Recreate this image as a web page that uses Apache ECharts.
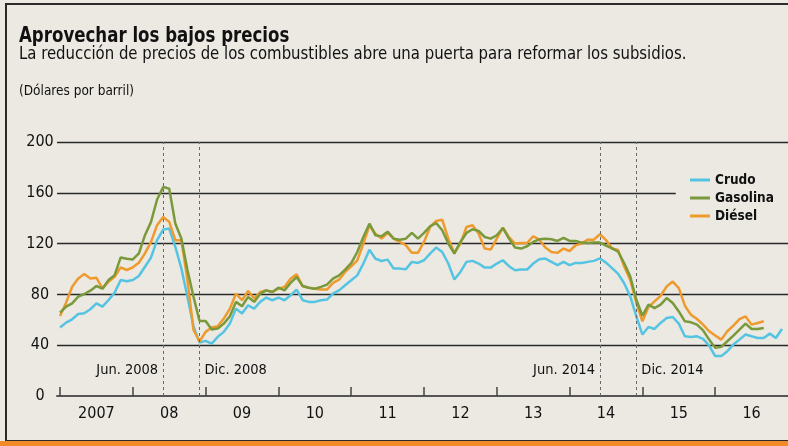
<!DOCTYPE html>
<html>
<head>
<meta charset="utf-8">
<script src="https://cdn.jsdelivr.net/npm/echarts@6/dist/echarts.min.js"></script>
<style>
  html, body { margin: 0; padding: 0; background: #e9e7df; }
  #chart { width: 788px; height: 446px; }
</style>
</head>
<body>
<div id="chart"></div>
<script>
'use strict';

// monthly, Jan 2007 = index 0
var yearLabels = ['2007', '08', '09', '10', '11', '12', '13', '14', '15', '16'];
var yTicks = [0, 40, 80, 120, 160, 200];
var gridValues = [40, 80, 120, 200];   // 160 is drawn short, the legend sits on it
var events = [
    { month: 17, name: 'Jun. 2008', side: 'left' },
    { month: 23, name: 'Dic. 2008', side: 'right' },
    { month: 89, name: 'Jun. 2014', side: 'left' },
    { month: 95, name: 'Dic. 2014', side: 'right' }
];

var crudo = [
    53.9, 57.8, 60.4, 64.6, 65.1, 68.3, 73, 70.4, 75.6, 81.4, 91.3, 90.3,
    91.3, 94.5, 101.8, 109.1, 122.7, 131, 131.9, 117.5, 100.5, 78.2, 54.7, 42,
    43.4, 41.3, 46.6, 50.5, 57, 68.8, 64.9, 71.4, 68.8, 74.1, 77.5, 75.4,
    77.5, 75.4, 79.3, 83.8, 75.4, 74.1, 74.1, 75.4, 75.9, 80.6, 83.2, 87.2,
    91.1, 95, 104.2, 115.2, 108.1, 106.3, 107.4, 100.3, 100.3, 99.8, 105.6, 104.8,
    106.9, 112.1, 116.9, 113.4, 104.3, 91.7, 97.7, 105.6, 106.4, 104.3, 101.1, 101.1,
    104.3, 106.9, 102.2, 99, 99.6, 99.6, 104.3, 107.7, 108.2, 105.6, 103, 105.6,
    103, 104.8, 104.8, 105.6, 106.4, 108.3, 105, 100.7, 96.2, 88.8, 78.4, 62.7,
    48.4, 54.4, 52.8, 57.5, 61.4, 62.2, 57, 47, 46.5, 47, 45, 39.7,
    31.4, 31.4, 35.3, 40.5, 44.4, 48.4, 47, 45.7, 45.7, 49.1, 45.7, 52.8
];
var gasolina = [
    65.7, 70.4, 73, 78.2, 80.3, 82.9, 86.6, 84.5, 91.3, 95.2, 109.1, 108.1,
    107.5, 112.3, 126.6, 137.1, 154.7, 164.6, 163.3, 135.8, 124, 99.2, 78.2, 59,
    59.1, 52.3, 53.1, 57, 62.8, 74.1, 70.7, 78, 74.1, 80.6, 83.2, 81.9,
    85.3, 83.2, 89, 93.7, 86.6, 85.3, 84.5, 85.9, 87.7, 92.4, 95, 99.5,
    104.7, 113.4, 125.2, 135.7, 126.5, 125.7, 129.4, 123.9, 123.1, 123.9, 128.4, 123.9,
    128.4, 133.6, 136.2, 130.5, 120, 112.1, 121.3, 128.4, 131.3, 130, 125.2, 123.9,
    126.6, 132.3, 123.9, 116.9, 116.1, 117.9, 121.3, 123.4, 123.9, 123.4, 122.1, 124.5,
    122.1, 122.1, 120.8, 120.5, 120.8, 120.8, 118.4, 116.2, 113.6, 104.5, 94, 75.8,
    63.2, 71.9, 69.2, 71.9, 77.1, 73.2, 66.6, 58.8, 58, 56.2, 51.7, 44.4,
    37.9, 38.7, 43.1, 47.6, 52.3, 57, 52.8, 52.8, 53.6
];
var diesel = [
    63, 73.5, 86, 92.6, 96, 92.6, 93.1, 84.8, 90, 93.9, 101.3, 99.2,
    101.3, 104.9, 112.3, 121.4, 134.5, 141, 137.1, 122.7, 122.7, 91.3, 52, 42.9,
    50.5, 53.9, 54.9, 61, 68.8, 80.6, 75.4, 82.7, 76.7, 81.9, 83.2, 81.9,
    84.5, 85.9, 92.4, 95.8, 86.4, 85.3, 84.5, 83.8, 83.8, 89, 91.6, 97.7,
    102.1, 106.8, 119.9, 134.3, 127.8, 123.9, 128.5, 123.9, 121.3, 118.7, 112.7, 112.7,
    121.3, 133.1, 137.8, 138.9, 123.9, 112.7, 120, 133.1, 134.4, 127.9, 116.1, 115.3,
    123.9, 132.6, 125.2, 120, 120.5, 120.5, 125.8, 123.1, 116.9, 113.4, 112.7, 116.1,
    114.2, 118.7, 120, 123.1, 123.1, 127.4, 122.8, 116.2, 114.9, 101.9, 91.4, 73.2,
    58.8, 70, 74.5, 78.9, 86.2, 90.1, 84.9, 71.1, 64, 60.6, 56.2, 51,
    47.6, 44.4, 51, 55.4, 60.6, 62.7, 56.2, 57.5, 58.8
];

var FONT = '"Liberation Sans Narrow", "DejaVu Sans Condensed", sans-serif';

function toPairs(arr) {
    return arr.map(function (v, i) { return [i, v]; });
}

var yearTicks = yearLabels.map(function (d, k) { return k * 12; });
var yearMids = yearLabels.map(function (d, k) { return k * 12 + 6; });

var myChart = echarts.init(document.getElementById('chart'));

var gridLines = gridValues.map(function (v) { return { yAxis: v }; });
gridLines.push([{ coord: [-0.5, 160] }, { coord: [101.5, 160] }]);

var eventLines = events.map(function (e) {
    return [{ coord: [e.month, 0] }, { coord: [e.month, 200] }];
});
var eventLabels = events.map(function (e) {
    return {
        coord: [e.month, 20],
        label: { position: e.side, formatter: e.name, distance: 5 }
    };
});

var option = {
    backgroundColor: '#ebe9e1',
    animation: false,
    graphic: [
        {
            type: 'rect', silent: true, z: -1,
            shape: { x: 6, y: 4, width: 800, height: 437 },
            style: { fill: 'none', stroke: '#2b2b2b', lineWidth: 2 }
        },
        {
            type: 'rect', silent: true,
            shape: { x: 0, y: 441, width: 788, height: 5 },
            style: { fill: '#f28a27' }
        },
        {
            type: 'text', silent: true,
            x: 19, y: 25, scaleX: 0.84,
            style: {
                text: 'Aprovechar los bajos precios',
                font: 'bold 22px ' + FONT, fill: '#111',
                verticalAlign: 'top'
            }
        },
        {
            type: 'text', silent: true,
            x: 19, y: 46, scaleX: 0.975,
            style: {
                text: 'La reducción de precios de los combustibles abre una puerta para reformar los subsidios.',
                font: '17px ' + FONT, fill: '#111',
                verticalAlign: 'top'
            }
        },
        {
            type: 'text', silent: true,
            x: 19, y: 84,
            style: {
                text: '(Dólares por barril)',
                font: '13.5px ' + FONT, fill: '#111',
                verticalAlign: 'top'
            }
        }
    ],
    legend: {
        orient: 'vertical',
        left: 690, top: 173,
        padding: 0,
        icon: 'rect',
        itemWidth: 20, itemHeight: 3,
        itemGap: 4,
        data: ['Crudo', 'Gasolina', 'Diésel'],
        textStyle: { fontFamily: FONT, fontWeight: 'bold', fontSize: 13.5, lineHeight: 14, color: '#111' }
    },
    grid: { left: 57, right: 0, top: 142, bottom: 50 },
    xAxis: {
        type: 'value',
        min: -0.5, max: 120,
        axisLine: { show: true, lineStyle: { color: '#555', width: 2 } },
        axisTick: {
            show: true, inside: true, length: 9,
            customValues: yearTicks,
            lineStyle: { color: '#444', width: 1.5 }
        },
        axisLabel: {
            customValues: yearMids,
            margin: 10,
            fontFamily: FONT, fontSize: 16, color: '#111',
            formatter: function (v) { return yearLabels[(v - 6) / 12]; }
        },
        splitLine: { show: false }
    },
    yAxis: {
        type: 'value',
        min: 0, max: 200, interval: 40,
        axisLine: { show: false },
        axisTick: { show: false },
        axisLabel: {
            customValues: yTicks,
            align: 'center', margin: 17,
            fontFamily: FONT, fontSize: 16, color: '#111'
        },
        splitLine: { show: false }
    },
    series: [
        {
            name: 'Crudo', type: 'line',
            data: toPairs(crudo),
            showSymbol: false,
            lineStyle: { width: 2.5, color: '#55c4e2' },
            itemStyle: { color: '#55c4e2' },
            z: 3,
            markLine: {
                silent: true, symbol: 'none',
                label: { show: false },
                lineStyle: { color: '#2a2a2a', width: 1.3, type: 'solid' },
                data: gridLines,
                z: 1
            }
        },
        {
            name: 'Diésel', type: 'line',
            data: toPairs(diesel),
            showSymbol: false,
            lineStyle: { width: 2.5, color: '#ef9a2c' },
            itemStyle: { color: '#ef9a2c' },
            z: 4,
            markLine: {
                silent: true, symbol: 'none',
                label: { show: false },
                lineStyle: { color: '#666', width: 1, type: [3, 3] },
                data: eventLines
            },
            markPoint: {
                silent: true,
                symbolSize: 0,
                label: { show: true, fontFamily: FONT, fontSize: 14.5, color: '#111' },
                data: eventLabels
            }
        },
        {
            name: 'Gasolina', type: 'line',
            data: toPairs(gasolina),
            showSymbol: false,
            lineStyle: { width: 2.5, color: '#7a993a' },
            itemStyle: { color: '#7a993a' },
            z: 5
        }
    ]
};

myChart.setOption(option);
</script>
</body>
</html>
